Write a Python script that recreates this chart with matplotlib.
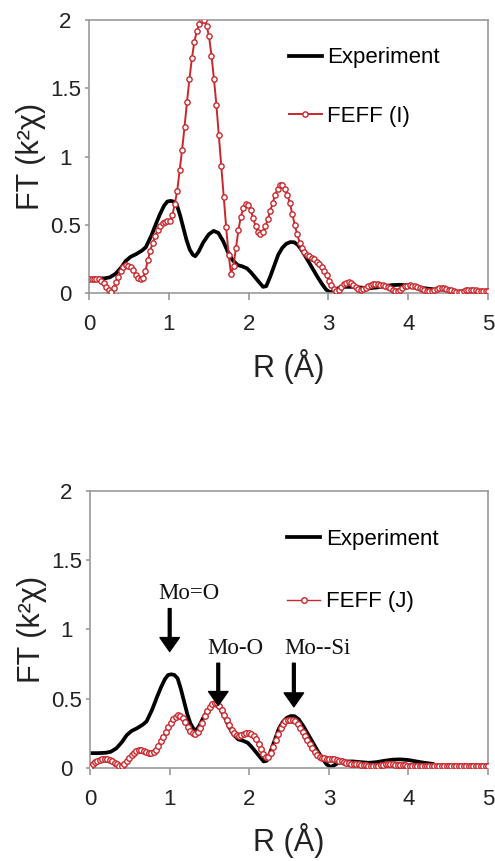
import numpy as np
import matplotlib
matplotlib.use("Agg")
from matplotlib import pyplot as plt
from matplotlib.ticker import FormatStrFormatter

plt.rcParams['font.family'] = ['Liberation Sans', 'DejaVu Sans']

# FEFF R grid (one point per marker)
r_feff = np.linspace(0, 5, 164)

# FEFF (I) - top panel
feff_i = [
    0.10, 0.10, 0.10, 0.10, 0.10, 0.09, 0.07, 0.045, 0.02, 0.01,
    0.04, 0.08, 0.12, 0.16, 0.19, 0.205, 0.20, 0.19, 0.165, 0.135,
    0.11, 0.10, 0.11, 0.16, 0.24, 0.31, 0.37, 0.42, 0.46, 0.49,
    0.51, 0.52, 0.53, 0.53, 0.57, 0.65, 0.75, 0.90, 1.05, 1.22,
    1.40, 1.57, 1.72, 1.84, 1.92, 1.97, 2.00, 2.00, 1.96, 1.88,
    1.74, 1.57, 1.38, 1.16, 0.93, 0.70, 0.48, 0.28, 0.14, 0.20,
    0.33, 0.46, 0.56, 0.62, 0.65, 0.645, 0.61, 0.55, 0.49, 0.45,
    0.43, 0.45, 0.49, 0.54, 0.60, 0.66, 0.72, 0.76, 0.79, 0.79,
    0.76, 0.72, 0.66, 0.58, 0.50, 0.43, 0.37, 0.33, 0.30, 0.28,
    0.27, 0.26, 0.25, 0.23, 0.21, 0.19, 0.16, 0.13, 0.09, 0.055,
    0.03, 0.015, 0.02, 0.045, 0.065, 0.075, 0.078, 0.07, 0.06, 0.045,
    0.03, 0.025, 0.03, 0.04, 0.05, 0.06, 0.065, 0.068, 0.066, 0.062,
    0.058, 0.052, 0.045, 0.035, 0.025, 0.015, 0.012, 0.02, 0.035, 0.048,
    0.053, 0.055, 0.054, 0.05, 0.043, 0.035, 0.028, 0.02, 0.015, 0.012,
    0.015, 0.022, 0.03, 0.036, 0.037, 0.035, 0.03, 0.025, 0.02, 0.015,
    0.01, 0.008, 0.01, 0.015, 0.02, 0.024, 0.025, 0.022, 0.019, 0.017,
    0.017, 0.018, 0.017, 0.016,
]

# FEFF (J) - bottom panel
feff_j = [
    0.007, 0.025, 0.04, 0.05, 0.058, 0.063, 0.064, 0.062, 0.057, 0.048,
    0.037, 0.025, 0.015, 0.015, 0.03, 0.048, 0.07, 0.09, 0.108, 0.12,
    0.127, 0.127, 0.12, 0.11, 0.105, 0.104, 0.11, 0.13, 0.16, 0.19,
    0.225, 0.26, 0.295, 0.325, 0.35, 0.368, 0.378, 0.375, 0.36, 0.33,
    0.295, 0.265, 0.25, 0.245, 0.255, 0.285, 0.32, 0.37, 0.41, 0.44,
    0.46, 0.467, 0.465, 0.445, 0.415, 0.38, 0.345, 0.31, 0.275, 0.25,
    0.235, 0.232, 0.235, 0.243, 0.25, 0.252, 0.245, 0.23, 0.205, 0.17,
    0.135, 0.10, 0.08, 0.08, 0.105, 0.15, 0.20, 0.245, 0.285, 0.315,
    0.335, 0.345, 0.348, 0.345, 0.335, 0.315, 0.29, 0.26, 0.23, 0.20,
    0.17, 0.14, 0.115, 0.095, 0.08, 0.072, 0.068, 0.066, 0.065, 0.064,
    0.06, 0.055, 0.05, 0.045, 0.04, 0.036, 0.032, 0.03, 0.028, 0.026,
    0.024, 0.022, 0.02, 0.018, 0.015, 0.013, 0.012, 0.013, 0.015, 0.018,
    0.021, 0.023, 0.024, 0.024, 0.023, 0.022, 0.021, 0.02, 0.018, 0.016,
    0.015, 0.014, 0.013, 0.013, 0.012, 0.012, 0.013, 0.013, 0.012, 0.012,
    0.012, 0.013, 0.012, 0.012, 0.012, 0.012, 0.013, 0.012, 0.012, 0.012,
    0.012, 0.012, 0.012, 0.013, 0.012, 0.012, 0.012, 0.012, 0.012, 0.012,
    0.012, 0.012, 0.012, 0.012,
]

# Experiment (same in both panels)
r_exp = [0, 0.10, 0.20, 0.26, 0.33, 0.40, 0.46, 0.52, 0.59, 0.66,
         0.71, 0.78, 0.84, 0.89, 0.94, 0.98, 1.02, 1.06, 1.10, 1.14,
         1.18, 1.22, 1.26, 1.30, 1.33, 1.37, 1.43, 1.50, 1.56, 1.62,
         1.68, 1.74, 1.80, 1.86, 1.92, 1.98, 2.03, 2.08, 2.13, 2.18,
         2.22, 2.27, 2.32, 2.37, 2.42, 2.47, 2.52, 2.57, 2.62, 2.68,
         2.74, 2.80, 2.86, 2.92, 2.97, 3.02, 3.06, 3.12, 3.2, 3.3,
         3.4, 3.5, 3.6, 3.7, 3.8, 3.9, 4.0, 4.1, 4.2, 4.3]
experiment = [0.105, 0.105, 0.108, 0.115, 0.14, 0.185, 0.235, 0.265, 0.285, 0.31,
              0.335, 0.42, 0.51, 0.58, 0.64, 0.67, 0.675, 0.67, 0.645, 0.57,
              0.48, 0.39, 0.32, 0.28, 0.27, 0.30, 0.37, 0.43, 0.455, 0.44,
              0.38, 0.30, 0.24, 0.205, 0.195, 0.18, 0.15, 0.115, 0.08, 0.045,
              0.05, 0.12, 0.20, 0.28, 0.33, 0.36, 0.373, 0.372, 0.35, 0.30,
              0.24, 0.18, 0.12, 0.065, 0.025, 0.005, 0.015, 0.035, 0.045, 0.045,
              0.04, 0.035, 0.04, 0.05, 0.058, 0.06, 0.055, 0.045, 0.035, 0.028]

# peak labels (bottom panel)
peak_labels = ['Mo=O', 'Mo-O', 'Mo--Si']
peak_r = [1.0, 1.61, 2.56]
arrow_top = [1.15, 0.755, 0.755]
arrow_tip = [0.84, 0.45, 0.44]
label_r = [1.24, 1.82, 2.85]
label_y = [1.26, 0.86, 0.86]

red = '#c8282d'
gray = '#9a9a9a'

fig = plt.figure(figsize=(4.95, 8.61), dpi=100)
ax1 = fig.add_axes([0.180, 0.6597, 0.806, 0.317])
ax2 = fig.add_axes([0.182, 0.1084, 0.804, 0.3213])


def style(ax):
    ax.set_xlim(0, 5)
    ax.set_ylim(0, 2)
    ax.set_xticks([0, 1, 2, 3, 4, 5])
    ax.set_yticks([0, 0.5, 1, 1.5, 2])
    ax.yaxis.set_major_formatter(FormatStrFormatter('%g'))
    for s in ax.spines.values():
        s.set_color(gray)
        s.set_linewidth(1.2)
    ax.tick_params(axis='both', direction='out', colors=gray, labelcolor='#222222',
                   labelsize=16, width=1.2)
    ax.tick_params(axis='x', length=5, pad=10)
    ax.tick_params(axis='y', length=3, pad=14)
    for t in ax.get_yticklabels():
        t.set_horizontalalignment('center')
    ax.set_xlabel('R (Å)', fontsize=22, color='#222222', labelpad=10)
    ax.set_ylabel('FT (k²χ)', fontsize=22, color='#222222', labelpad=3)


# top panel
ax1.plot(r_exp, experiment, color='black', lw=2.7, label='Experiment', zorder=2)
ax1.plot(r_feff, feff_i, color=red, lw=1.4, marker='o', ms=3.8, mfc='white',
         mec=red, mew=1.0, label='FEFF (I)', zorder=3)
style(ax1)
ax1.legend(loc='upper left', bbox_to_anchor=(0.50, 0.90), frameon=False,
           fontsize=16, handlelength=1.5, handletextpad=0.25, labelspacing=1.7,
           numpoints=1, borderpad=0, borderaxespad=0)

# bottom panel
ax2.plot(r_exp, experiment, color='black', lw=2.7, label='Experiment', zorder=2)
ax2.plot(r_feff, feff_j, color=red, lw=1.0, marker='o', ms=4.0, mfc='white',
         mec=red, mew=1.0, label='FEFF (J)', zorder=3)
style(ax2)
ax2.legend(loc='upper left', bbox_to_anchor=(0.495, 0.862), frameon=False,
           fontsize=16, handlelength=1.5, handletextpad=0.25, labelspacing=1.85,
           numpoints=1, borderpad=0, borderaxespad=0)

for name, r, y0, y1, lr, ly in zip(peak_labels, peak_r, arrow_top, arrow_tip,
                                   label_r, label_y):
    ax2.annotate('', xy=(r, y1), xytext=(r, y0),
                 arrowprops=dict(facecolor='black', edgecolor='black', width=2.0,
                                 headwidth=14, headlength=10, shrink=0),
                 zorder=5)
    ax2.text(lr, ly, name, ha='center', va='center', fontsize=16.5,
             family=['Liberation Serif', 'DejaVu Serif'], color='#111111')

fig.savefig('out.png', dpi=100)
